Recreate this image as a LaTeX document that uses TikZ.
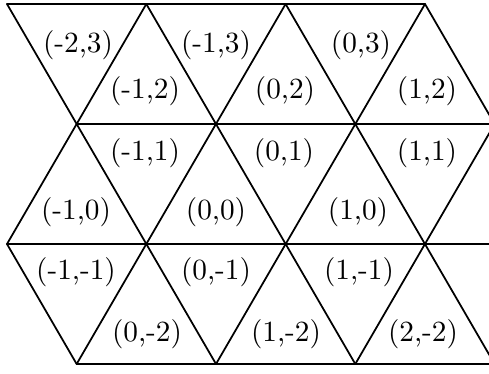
\documentclass[tikz,border=0pt]{standalone}
\begin{document}
\begin{tikzpicture}[x=0.3414pt,y=-0.3414pt,
  edge/.style={line width=0.6pt, line cap=round, line join=round},
  lab/.style={inner sep=0pt, font=\fontsize{10}{12}\selectfont}]
\useasboundingbox (0,0) rectangle (489,373);
\clip (0,0) rectangle (489,373);
% lattice vertices
\coordinate (a0) at (7,4);
\coordinate (a1) at (146.3,4);
\coordinate (a2) at (285.6,4);
\coordinate (a3) at (425,4);
\coordinate (b0) at (76.65,124);
\coordinate (b1) at (216,124);
\coordinate (b2) at (355.3,124);
\coordinate (b3) at (494.6,124);
\coordinate (c0) at (7,244);
\coordinate (c1) at (146.3,244);
\coordinate (c2) at (285.6,244);
\coordinate (c3) at (425,244);
\coordinate (c4) at (564.3,244);
\coordinate (d0) at (76.65,364);
\coordinate (d1) at (216,364);
\coordinate (d2) at (355.3,364);
\coordinate (d3) at (494.6,364);
% horizontal lines
\draw[edge] (a0) -- (a3);
\draw[edge] (b0) -- (b3);
\draw[edge] (c0) -- (c4);
\draw[edge] (d0) -- (d3);
% down-right lines
\draw[edge] (a0) -- (d1);
\draw[edge] (a1) -- (d2);
\draw[edge] (a2) -- (d3);
\draw[edge] (a3) -- (b3);
\draw[edge] (c0) -- (d0);
% down-left lines
\draw[edge] (a1) -- (c0);
\draw[edge] (a2) -- (d0);
\draw[edge] (a3) -- (d1);
\draw[edge] (b3) -- (d2);
% labels
\node[lab] (m23) at (78,45) {(-2,3)};
\node[lab] (m13) at (216,45) {(-1,3)};
\node[lab] (p03) at (361,45) {(0,3)};
\node[lab] (m12) at (145,91) {(-1,2)};
\node[lab] (p02) at (285,91) {(0,2)};
\node[lab] (p12) at (427,91) {(1,2)};
\node[lab] (m11) at (145,153) {(-1,1)};
\node[lab] (p01) at (284,153) {(0,1)};
\node[lab] (p11) at (427,153) {(1,1)};
\node[lab] (m10) at (76,212) {(-1,0)};
\node[lab] (p00) at (216,212) {(0,0)};
\node[lab] (p10) at (358,212) {(1,0)};
\node[lab] (mm1) at (76,272) {(-1,-1)};
\node[lab] (pm1) at (216,272) {(0,-1)};
\node[lab] (qm1) at (359,272) {(1,-1)};
\node[lab] (pm2) at (147,334) {(0,-2)};
\node[lab] (qm2) at (286,334) {(1,-2)};
\node[lab] (rm2) at (423,334) {(2,-2)};
\end{tikzpicture}
\end{document}
